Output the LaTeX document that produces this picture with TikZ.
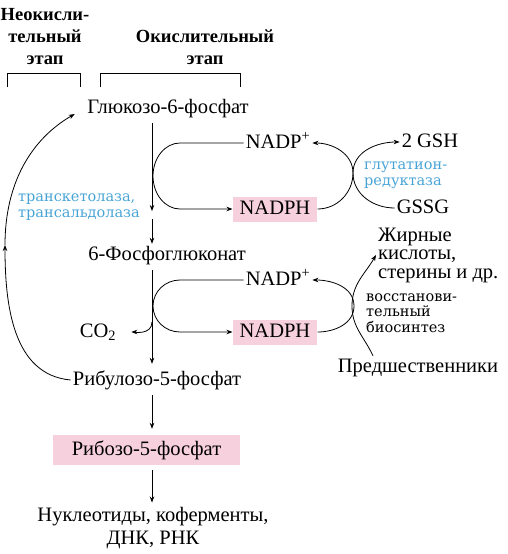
\documentclass[tikz,border=0pt]{standalone}
\usepackage{fontspec}
\setmainfont{Liberation Serif}[BoldFont={Liberation Serif Bold}]
\newfontfamily\labelfont{DejaVu Serif}
\usetikzlibrary{
    arrows.meta,
    positioning,
    calc
}
\definecolor{hlpink}{RGB}{247,208,221}
\definecolor{enzblue}{RGB}{72,164,214}

\begin{document}
\begin{tikzpicture}[
    x=1pt, y=1pt,
    chem/.style={
        inner sep=2pt,
        font=\fontsize{20.5}{23}\selectfont
    },
    metab/.style={
        chem,
        text height=14pt,
        text depth=4pt
    },
    hlbox/.style={
        metab,
        fill=hlpink,
        inner xsep=7pt,
        inner ysep=3.5pt
    },
    stage/.style={
        align=center,
        font=\bfseries\fontsize{18.5}{22}\selectfont
    },
    enzyme/.style={
        align=left,
        text=enzblue,
        inner sep=0pt,
        font=\labelfont\fontsize{14.5}{15.5}\selectfont
    },
    arrow/.style={
        -{Stealth[length=6pt,width=4.5pt]},
        line width=0.8pt
    },
    link/.style={
        line width=0.8pt
    }
]
\useasboundingbox (0,0) rectangle (507,-554);

\node[stage] (nonox) at (45,-37) {Неокисли-\\тельный\\этап};
\node[stage] (ox) at (205,-47.5) {Окислительный\\этап};
\draw[link] (7,-87) -- (7,-73) -- (80,-73) -- (80,-87);
\draw[link] (100,-87) -- (100,-73) -- (240,-73) -- (240,-87);

\coordinate (ax) at (152,0);
\coordinate (arcx) at (180,0);

\node[metab] (g6p) at (168,-108) {Глюкозо-6-фосфат};
\node[metab] (nadpA) at (278,-143) {NADP\textsuperscript{+}};
\node[hlbox] (nadphA) at (275,-209) {NADPH};
\node[metab] (gsh) at (430,-142) {2 GSH};
\node[metab] (gssg) at (423,-208) {GSSG};
\node[enzyme, anchor=west] (grd) at (364,-175) {глутатион-\\редуктаза};
\node[enzyme, anchor=west] (tkt) at (18,-207) {транскетолаза,\\трансальдолаза};

\node[metab] (pg) at (167,-255) {6-Фосфоглюконат};
\node[metab] (nadpB) at (278,-280) {NADP\textsuperscript{+}};
\node[hlbox] (nadphB) at (275,-332) {NADPH};
\node[chem, align=left, anchor=west, font=\fontsize{20.5}{18.5}\selectfont]
    (fatty) at (376,-255) {Жирные\\кислоты,\\стерины и др.};
\node[enzyme, text=black, anchor=west] (bios) at (366,-313)
    {восстанови-\\тельный\\биосинтез};
\node[metab] (prec) at (418,-367) {Предшественники};
\node[metab] (co2) at (98,-332) {CO\textsubscript{2}};

\node[metab] (ru5p) at (157,-380) {Рибулозо-5-фосфат};
\node[hlbox, minimum width=187pt, minimum height=30pt] (r5p) at (146.5,-450)
    {Рибозо-5-фосфат};
\node[chem, align=center] (nuc) at (153,-528.5)
    {Нуклеотиды, коферменты,\\ДНК, РНК};

% main column
\coordinate (lacA) at (152,-211);
\coordinate (lacB) at (152,-219);
\draw[arrow, shorten <=4pt] (g6p.south -| ax) -- (lacA);
\draw[arrow] (lacB) -- (pg.north -| ax);
\draw[arrow, shorten <=4pt, shorten >=5pt] (pg.south -| ax) -- (ru5p.north -| ax);
\draw[arrow, shorten <=4pt, shorten >=6pt] (ru5p.south -| ax) -- (r5p.north -| ax);
\draw[arrow, shorten <=5pt, shorten >=3pt] (r5p.south -| ax) -- (nuc.north -| ax);

\coordinate (br) at (152,-322);
\draw[arrow, shorten >=13pt] (br) to[out=-90,in=0] (co2.east);

% NADP+ / NADPH loops
\draw[arrow] (nadpA.west) -- (nadpA.west -| arcx)
    arc[start angle=90, end angle=270, x radius=27pt, y radius=33pt] -- (nadphA.west);
\draw[arrow] (nadpB.west) -- (nadpB.west -| arcx)
    arc[start angle=90, end angle=270, x radius=27pt, y radius=26pt] -- (nadphB.west);

% glutathione
\coordinate (gx) at (353,-173);
\draw[arrow] (nadphA.east) to[out=0,in=-90] (gx) to[out=90,in=180] (gsh.west);
\draw[arrow] (gssg.west) to[out=180,in=-90] (gx) to[out=90,in=0] (nadpA.east);

% biosynthesis
\coordinate (bx) at (354,-306);
\draw[arrow] (nadphB.east) to[out=0,in=-90] (bx) to[out=90,in=0] (nadpB.east);
\coordinate (bx2) at (352,-306);
\draw[arrow] ([xshift=-45pt]prec.north) to[out=115,in=-90] (bx2)
    to[out=90,in=240] (fatty.west);

% non-oxidative return
\coordinate (loopmid) at (5,-245);
\draw[arrow] (ru5p.west) to[out=175,in=-90] (loopmid);
\draw[arrow, shorten >=12pt] (loopmid) to[out=90,in=210] (g6p.west);

\end{tikzpicture}
\end{document}
